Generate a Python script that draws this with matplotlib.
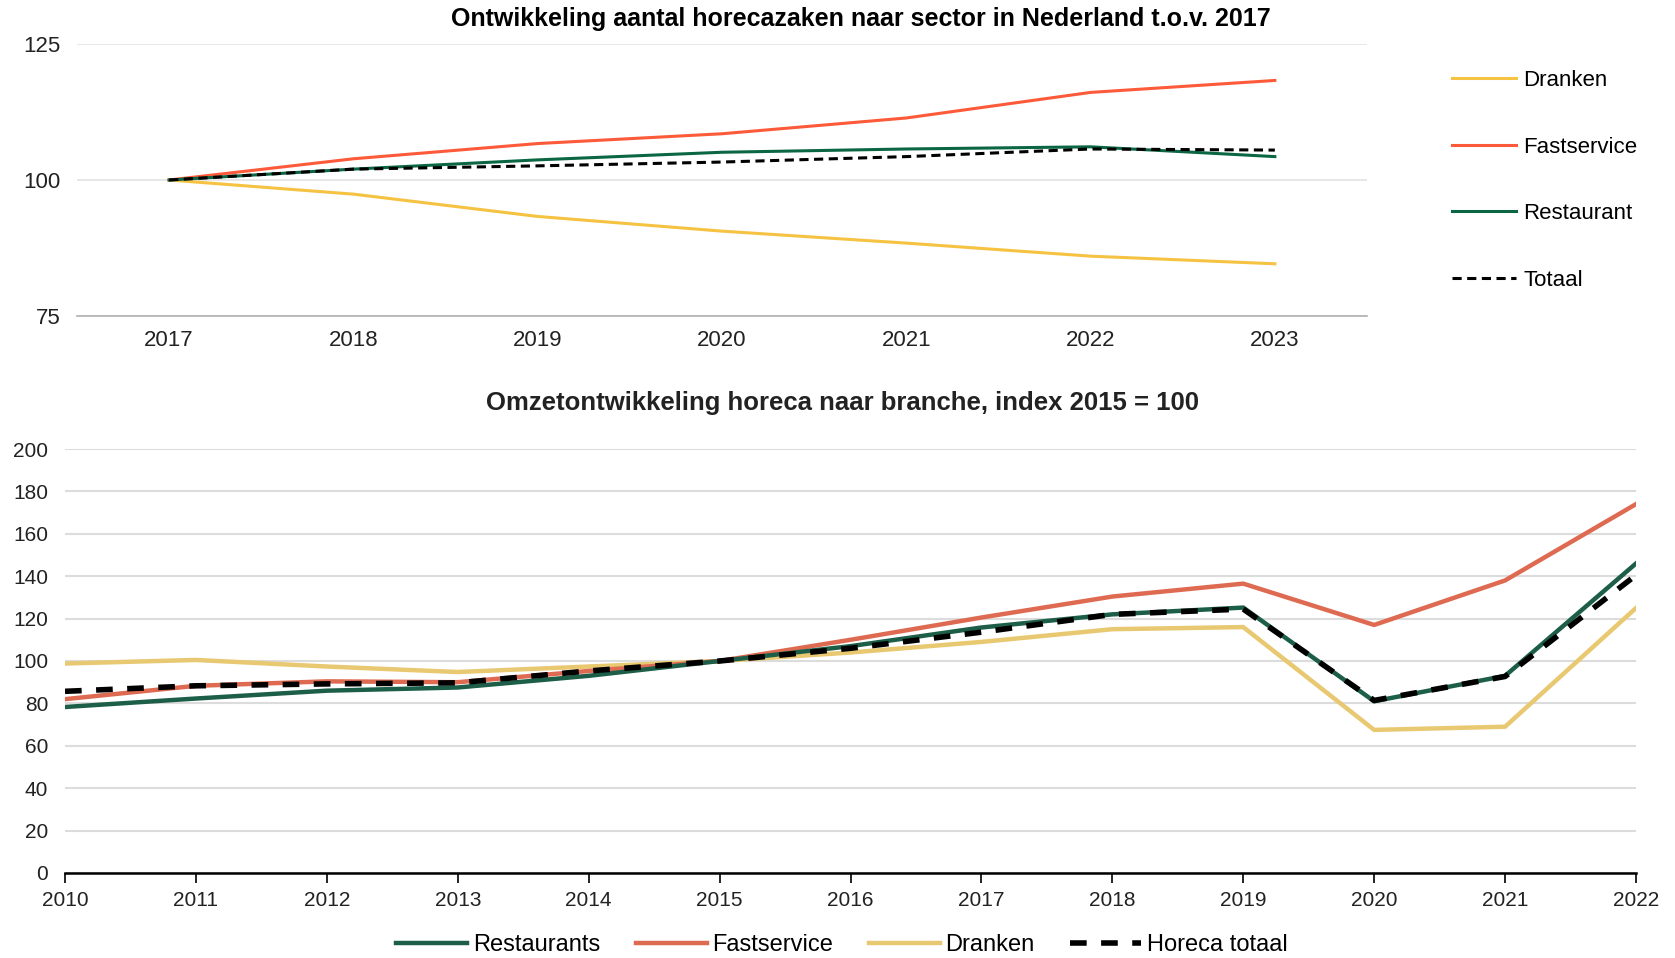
import matplotlib.pyplot as plt
import numpy as np

# lettertypen
plt.rcParams['font.family'] = ['Liberation Sans', 'DejaVu Sans']
smal = ['Liberation Sans Narrow', 'Liberation Sans', 'DejaVu Sans']

# bovenste grafiek: aantal horecazaken t.o.v. 2017
jaren_top = ['2017', '2018', '2019', '2020', '2021', '2022', '2023']
dranken_top = [100, 97.4, 93.3, 90.6, 88.4, 86.0, 84.6]
fastservice_top = [100, 103.9, 106.7, 108.5, 111.4, 116.1, 118.3]
restaurant_top = [100, 102.0, 103.7, 105.1, 105.7, 106.1, 104.3]
totaal_top = [100, 102.0, 102.6, 103.3, 104.3, 105.7, 105.5]

# onderste grafiek: omzetontwikkeling, index 2015 = 100
jaren_onder = list(range(2010, 2023))
restaurants = [78.3, 82.3, 86.0, 87.5, 93.0, 100, 107, 115.8, 122, 125.2, 81, 93, 146]
fastservice = [82, 88.3, 90.4, 90.0, 95.3, 100, 110, 120.5, 130.4, 136.5, 117, 138, 174]
dranken = [98.8, 100.5, 97.4, 94.8, 97.4, 100, 104, 109, 115, 116, 67.5, 69, 125]
horeca_totaal = [85.7, 88.3, 89.2, 89.7, 95.3, 100, 106, 113.6, 122, 124.5, 81.4, 92.7, 140.5]

fig = plt.figure(figsize=(16.75, 9.58), dpi=100)

# --- bovenste grafiek ---
ax1 = fig.add_axes([77 / 1675, 1 - 316 / 958, 1290 / 1675, 272 / 958])
x = np.arange(len(jaren_top))
ax1.plot(x, dranken_top, color='#f5c242', lw=2.2, label='Dranken')
ax1.plot(x, fastservice_top, color='#fd5a3a', lw=2.2, label='Fastservice')
ax1.plot(x, restaurant_top, color='#0b6644', lw=2.2, label='Restaurant')
ax1.plot(x, totaal_top, color='black', lw=2.2, dashes=(3, 1.8), label='Totaal')
ax1.set_xlim(-0.5, 6.5)
ax1.set_ylim(75, 125)
ax1.set_yticks([75, 100, 125])
ax1.set_xticks(x)
ax1.set_xticklabels(jaren_top)
ax1.grid(axis='y', color='#e3e3e3', lw=1.2)
ax1.set_axisbelow(True)
for s in ['top', 'right', 'left']:
    ax1.spines[s].set_visible(False)
ax1.spines['bottom'].set_color('#b0b0b0')
ax1.spines['bottom'].set_linewidth(1.2)
ax1.tick_params(length=0, labelsize=16, colors='#222222', pad=10)
ax1.tick_params(axis='y', pad=12)
fig.text(861 / 1675, 1 - 19 / 958, 'Ontwikkeling aantal horecazaken naar sector in Nederland t.o.v. 2017',
         ha='center', va='center', fontsize=18, fontweight='bold')
fig.legend(handles=ax1.get_lines(), loc='upper left', bbox_to_anchor=(1432 / 1675, 1 - 50 / 958),
           frameon=False, fontsize=16, labelspacing=2.05, handlelength=2.9, handletextpad=0.3)

# --- onderste grafiek ---
ax2 = fig.add_axes([65 / 1675, 1 - 873 / 958, 1571 / 1675, 424 / 958])
l1, = ax2.plot(jaren_onder, restaurants, color='#1c5e48', lw=3.2, label='Restaurants', zorder=3)
l2, = ax2.plot(jaren_onder, fastservice, color='#df6a52', lw=3.2, label='Fastservice', zorder=2)
l3, = ax2.plot(jaren_onder, dranken, color='#e8c870', lw=3.2, label='Dranken', zorder=1)
l4, = ax2.plot(jaren_onder, horeca_totaal, color='black', lw=4, dashes=(3, 2.6), label='Horeca totaal', zorder=4)
ax2.set_xlim(2010, 2022)
ax2.set_ylim(0, 200)
ax2.set_yticks(range(0, 201, 20))
ax2.set_xticks(jaren_onder)
ax2.grid(axis='y', color='#dcdcdc', lw=1.5)
ax2.set_axisbelow(True)
for s in ['top', 'right', 'left']:
    ax2.spines[s].set_visible(False)
ax2.spines['bottom'].set_color('black')
ax2.spines['bottom'].set_linewidth(1.8)
ax2.tick_params(axis='x', direction='out', length=7, width=1.2, pad=6)
ax2.tick_params(axis='y', length=0, pad=12)
for lab in ax2.get_xticklabels() + ax2.get_yticklabels():
    lab.set_family(smal)
    lab.set_fontsize(15)
    lab.set_color('#222222')
fig.text(842 / 1675, 1 - 403 / 958, 'Omzetontwikkeling horeca naar branche, index 2015 = 100',
         ha='center', va='center', fontsize=18.5, fontweight='bold', family=smal, color='#222222')
fig.legend(handles=[l1, l2, l3, l4], loc='center', bbox_to_anchor=(842 / 1675, 1 - 945 / 958),
           ncol=4, frameon=False, prop={'family': smal, 'size': 17},
           handlelength=3.0, handletextpad=0.25, columnspacing=1.5)

fig.savefig('out.png', dpi=100)
